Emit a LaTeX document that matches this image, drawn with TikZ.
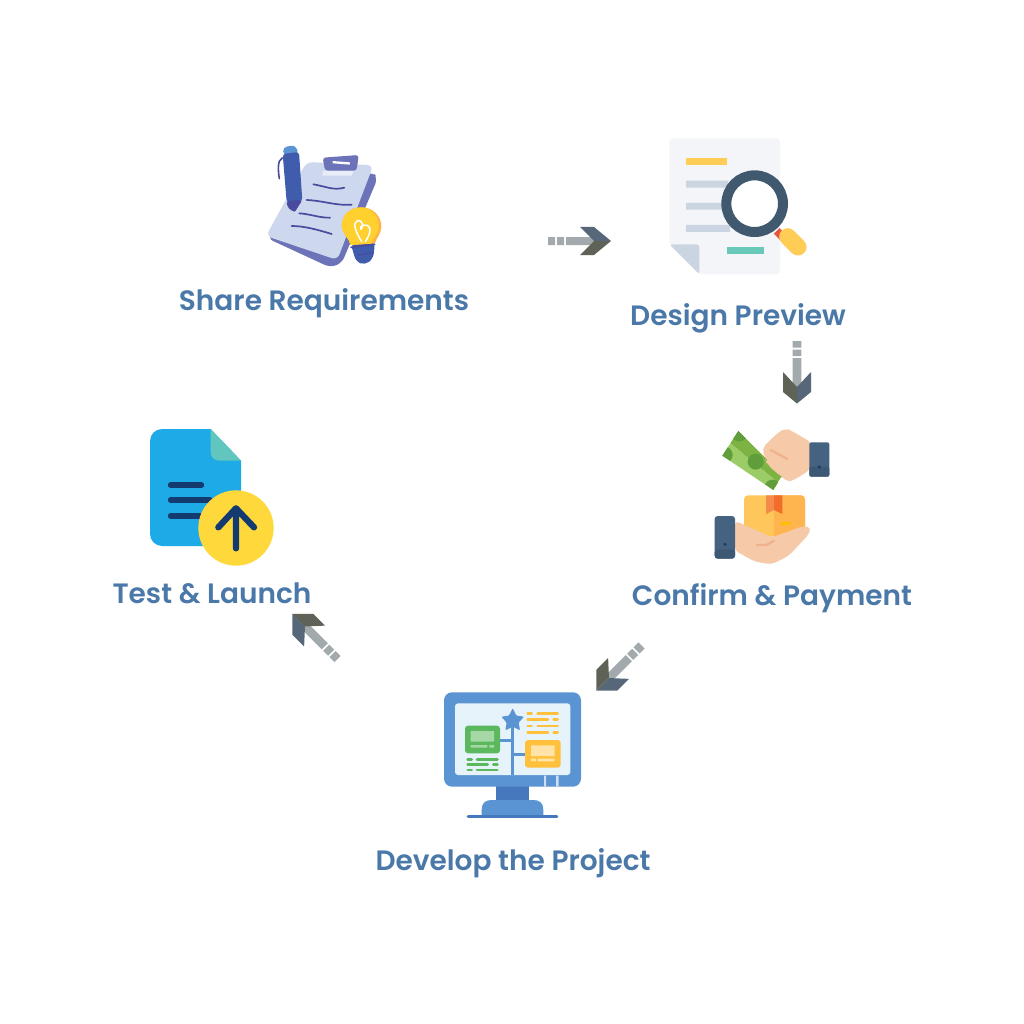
\documentclass[tikz,border=0pt]{standalone}
\usepackage{fontspec}
\newfontfamily\labfont{Poppins SemiBold}
\definecolor{lab}{HTML}{4A78A8}
\definecolor{shaft}{HTML}{A3AAAE}
\definecolor{headA}{HTML}{56677A}
\definecolor{headB}{HTML}{5F6357}
\definecolor{pap}{HTML}{CDD7EE}
\definecolor{pur}{HTML}{6D73B8}
\definecolor{ink}{HTML}{4A4A9E}
\definecolor{penb}{HTML}{3F5CAD}
\definecolor{skin}{HTML}{F6C9A8}
\definecolor{crease}{HTML}{EFB48D}
\definecolor{cuff}{HTML}{456381}
\definecolor{cuffd}{HTML}{3D5874}
\definecolor{mblue}{HTML}{5A94D2}
\definecolor{dblue}{HTML}{4678BD}
\definecolor{scr}{HTML}{E6F3FB}
\definecolor{mgreen}{HTML}{5CB85C}
\definecolor{morange}{HTML}{FFC13B}
\definecolor{bulb}{HTML}{FFD02E}
\definecolor{bulbo}{HTML}{FFB347}
\definecolor{sheet}{HTML}{F3F5F8}
\definecolor{fold}{HTML}{CBD5E1}
\definecolor{teal}{HTML}{68C9B8}
\definecolor{yel}{HTML}{FFCD56}
\definecolor{ring}{HTML}{40596F}
\definecolor{navy}{HTML}{143B70}
\definecolor{cyan}{HTML}{1EAAE7}
\definecolor{sun}{HTML}{FFD93B}
\definecolor{noteA}{HTML}{7CB342}
\definecolor{noteB}{HTML}{9CCC65}
\definecolor{noteC}{HTML}{5F9E3A}
\definecolor{boxA}{HTML}{FFC65C}
\definecolor{boxB}{HTML}{FFB54F}
\definecolor{tapeA}{HTML}{F58A4A}
\definecolor{tapeB}{HTML}{F26C2B}
\definecolor{neck}{HTML}{E8563F}
\tikzset{
  steplabel/.style={text=lab,font=\labfont\fontsize{28}{30}\selectfont,anchor=base,inner sep=0pt},
  zoomed/.style args={#1/#2}{shift={(#1,#2)},x=.33333pt,y=-.33333pt},
  thinline/.style={line cap=round,line width=#1},
  chevarrow/.pic={
    \fill[shaft] (0pt,-4pt) rectangle (7pt,4pt) (9pt,-4pt) rectangle (16pt,4pt) (18pt,-4pt) rectangle (46pt,4pt);
    \fill[headA] (32pt,14pt) -- (46pt,14pt) -- (63pt,0pt) -- (46pt,0pt) -- cycle;
    \fill[headB] (32pt,-14pt) -- (46pt,-14pt) -- (63pt,0pt) -- (46pt,0pt) -- cycle;
  },
  chevdiag/.pic={
    \fill[shaft] (0pt,-4.3pt) rectangle (7pt,4.3pt) (9pt,-4.3pt) rectangle (16pt,4.3pt) (18pt,-4.3pt) rectangle (46pt,4.3pt);
    \fill[headA] (32.5pt,14.7pt) -- (49pt,14.7pt) -- (63.7pt,0pt) -- (46pt,0pt) -- cycle;
    \fill[headB] (32.5pt,-14.7pt) -- (49pt,-14.7pt) -- (63.7pt,0pt) -- (46pt,0pt) -- cycle;
  },
  chevdown/.pic={
    \fill[shaft] (0pt,-4.3pt) rectangle (6.5pt,4.3pt) (8.5pt,-4.3pt) rectangle (15pt,4.3pt) (17pt,-4.3pt) rectangle (46pt,4.3pt);
    \fill[headA] (31pt,14pt) -- (51pt,14pt) -- (62.5pt,0pt) -- (46pt,0pt) -- cycle;
    \fill[headB] (31pt,-14pt) -- (51pt,-14pt) -- (62.5pt,0pt) -- (46pt,0pt) -- cycle;
  }
}
\begin{document}
\begin{tikzpicture}[x=1pt,y=-1pt]
\useasboundingbox[fill=white] (0,0) rectangle (1024,1024);
% labels
\node[steplabel] (share) at (324,310.3) {Share Requirements};
\node[steplabel] (design) at (738,325.3) {Design Preview};
\node[steplabel] (confirm) at (772,605.3) {Confirm \& Payment};
\node[steplabel] (develop) at (513,870.3) {Develop the Project};
\node[steplabel] (test) at (212,603.3) {Test \& Launch};
% arrows
\coordinate (a1) at (548,241);
\coordinate (a2) at (797,341);
\coordinate (a3) at (641.5,645.5);
\coordinate (a4) at (337.5,659);
\pic at (a1) {chevarrow};
\pic[rotate=-90] at (a2) {chevdown};
\pic[rotate=-135] at (a3) {chevdiag};
\pic[rotate=135] at (a4) {chevdiag};
% icon 1: clipboard
\begin{scope}[zoomed=250/130]
\fill[pur,rounded corners=6pt] (52,325) -- (240,412) -- (275,400) -- (383,145) -- (368,125) -- (200,200) -- cycle;
\fill[pap,rounded corners=6pt] (170,96) -- (370,106) -- (262,390) -- (48,318) -- cycle;
\fill[white!55!pap] (218,123) -- (310,123) -- (305,137) -- (218,137) -- cycle;
\fill[pur,rounded corners=3pt] (218,83) -- (326,75) -- (320,122) -- (225,122) -- cycle;
\fill[white!90!pap] (248,93) -- (300,97) -- (299,104) -- (248,100) -- cycle;
\draw[ink,thinline=1.7pt] (190,163) .. controls (230,170) and (250,182) .. (283,173);
\draw[ink,thinline=1.7pt] (170,210) .. controls (220,212) and (260,228) .. (305,224);
\draw[ink,thinline=1.7pt] (148,250) .. controls (180,252) and (210,264) .. (240,263);
\draw[ink,thinline=1.7pt] (125,288) .. controls (165,288) and (205,300) .. (245,312);
\draw[ink,thinline=1.6pt] (97,84) .. controls (82,90) and (84,120) .. (88,146);
\fill[mblue,rounded corners=4pt] (99,52) -- (135,45) -- (147,72) -- (100,76) -- cycle;
\fill[penb,rounded corners=3pt] (98,72) -- (147,66) -- (157,213) -- (110,216) -- cycle;
\fill[ink,rounded corners=2pt] (110,213) -- (157,210) -- (134,247) -- (113,233) -- cycle;
\fill[penb,rounded corners=5pt] (302,340) -- (375,335) -- (370,385) -- (345,405) -- (318,395) -- cycle;
\fill[bulbo] (335,232) .. controls (372,232) and (395,262) .. (394,292) .. controls (393,312) and (378,325) .. (375,340) -- (302,345) .. controls (298,325) and (275,310) .. (275,288) .. controls (275,255) and (300,232) .. (335,232) -- cycle;
\fill[bulb] (335,232) .. controls (366,232) and (388,262) .. (386,292) .. controls (385,312) and (368,325) .. (365,341) -- (302,345) .. controls (298,325) and (275,310) .. (275,288) .. controls (275,255) and (300,232) .. (335,232) -- cycle;
\draw[ink,thinline=1.6pt] (303,352) -- (374,343);
\draw[ink,thinline=1.2pt] (325,375) -- (368,368);
\draw[white,thinline=1.5pt,line join=round] (335,335) .. controls (320,310) and (305,280) .. (322,272) .. controls (338,268) and (342,290) .. (332,298) .. controls (325,285) and (355,278) .. (360,295) .. controls (362,310) and (352,325) .. (346,335);
\end{scope}
% icon 2: document with magnifier
\begin{scope}[zoomed=650/125]
\fill[sheet,rounded corners=4pt] (58,40) -- (390,40) -- (390,448) -- (148,448) -- (58,358) -- cycle;
\fill[fold,rounded corners=3pt] (58,358) -- (148,358) -- (148,448) -- cycle;
\fill[yel] (108,100) rectangle (232,121);
\fill[fold] (108,167) rectangle (235,188) (108,234) rectangle (220,254) (108,300) rectangle (240,321);
\fill[teal] (231,367) rectangle (342,388);
\draw[line width=8pt,color=neck] (380,318) -- (402,340);
\draw[yel,line width=17pt,line cap=round] (413,335) -- (444,366);
\fill[white] (314,236) circle (72);
\draw[ring,line width=10pt] (314,236) circle (85);
\end{scope}
% icon 3: payment hands
\begin{scope}[zoomed=700/420]
\fill[skin,rounded corners=5pt] (186,84) -- (232,40) .. controls (250,28) and (265,28) .. (280,36) -- (336,68) -- (330,150) -- (285,178) .. controls (270,184) and (258,180) .. (245,172) -- (200,130) -- cycle;
\begin{scope}
\clip (115,33) -- (248,165) -- (220,210) -- (67,107) -- cycle;
\fill[noteA] (115,33) -- (248,165) -- (233,187) -- (91,70) -- cycle;
\fill[noteB] (91,70) -- (233,187) -- (220,210) -- (67,107) -- cycle;
\fill[noteC] (167,125) circle (24) (118,38) circle (26) (72,105) circle (26) (218,205) circle (26);
\end{scope}
\fill[skin,rounded corners=7pt] (196,118) -- (208,95) -- (240,95) -- (290,140) -- (275,180) -- (250,175) -- (200,133) -- cycle;
\draw[crease,line width=2.4pt,line cap=round] (212,90) -- (262,117);
\fill[cuff,rounded corners=2pt] (328,67) rectangle (388,170);
\fill[cuffd,rounded corners=2pt] (328,140) rectangle (388,170);
\fill[navy] (358,141) circle (5);
\fill[boxA,rounded corners=4pt] (132,226) rectangle (315,350);
\fill[boxB,rounded corners=4pt] (222,226) rectangle (315,350);
\fill[boxB] (222,226) rectangle (240,350);
\fill[tapeA] (198,226) -- (222,226) -- (222,270) -- (198,282) -- cycle;
\fill[tapeB] (222,226) -- (247,226) -- (247,282) -- (222,270) -- cycle;
\fill[orange!50!yellow] (243,306) rectangle (272,316);
\fill[skin,rounded corners=4pt] (105,302) -- (145,320) -- (215,352) -- (222,350) -- (310,318) -- (333,322) -- (325,345) -- (265,408) -- (215,433) -- (165,425) -- (105,392) -- cycle;
\draw[crease,line width=2.4pt,line cap=round] (170,375) -- (200,375) -- (222,362);
\fill[cuff,rounded corners=3pt] (44,288) rectangle (105,416);
\fill[cuffd,rounded corners=3pt] (44,388) rectangle (105,416);
\fill[navy] (75,373) circle (5);
\end{scope}
% icon 4: monitor
\begin{scope}[zoomed=430/685]
\fill[dblue] (198,300) rectangle (298,348);
\fill[mblue] (155,394) -- (155,375) .. controls (155,355) and (165,345) .. (185,345) -- (310,345) .. controls (330,345) and (340,355) .. (340,375) -- (340,394) -- cycle;
\draw[dblue,line width=2.6pt,line cap=round] (114,394) -- (381,394);
\fill[mblue,rounded corners=8pt] (42,22) rectangle (453,305);
\fill[white!70!mblue] (342,272) rectangle (348,305) (378,272) rectangle (386,305);
\fill[scr,rounded corners=3pt] (75,55) rectangle (421,270);
\draw[mblue,line width=2.4pt] (247,100) -- (247,270) (210,167) -- (247,167) (247,208) -- (285,208);
\fill[mblue,rounded corners=1pt] (248,70) -- (259,92) -- (282,95) -- (266,113) -- (270,136) -- (248,125) -- (226,136) -- (230,113) -- (214,95) -- (237,92) -- cycle;
\fill[mgreen,rounded corners=3pt] (105,122) rectangle (210,205);
\fill[white!45!mgreen] (122,138) rectangle (192,170) (122,180) rectangle (172,188) (178,180) rectangle (192,188);
\fill[morange,rounded corners=3pt] (285,165) rectangle (392,248);
\fill[white!55!morange] (303,181) rectangle (374,213) (303,221) rectangle (318,229) (323,221) rectangle (374,229);
\draw[morange,line width=2.8pt,line cap=round] (293,85) -- (305,85) (323,85) -- (383,85) (293,104) -- (354,104) (371,104) -- (383,104) (293,123) -- (305,123) (323,123) -- (383,123) (293,142) -- (354,142) (371,142) -- (383,142);
\draw[mgreen,line width=2.8pt,line cap=round] (113,223) -- (125,223) (141,223) -- (202,223) (113,239) -- (173,239) (190,239) -- (202,239) (113,255) -- (125,255) (141,255) -- (202,255);
\end{scope}
% icon 5: upload document
\begin{scope}[zoomed=140/420]
\fill[cyan,rounded corners=12pt] (212,27) -- (30,27) -- (30,378) -- (250,378) [sharp corners] -- (303,378) -- (303,122) -- cycle;
\fill[teal!90!cyan] (212,27) -- (303,122) -- (240,122) .. controls (222,122) and (212,112) .. (212,95) -- cycle;
\draw[navy,line width=5.7pt,line cap=round] (92,196) -- (184,196) (92,240) -- (210,240) (92,287) -- (190,287);
\fill[sun] (288,324) circle (113);
\draw[navy,line width=6.3pt,line cap=round,line join=round] (288,385) -- (288,265) (235,322) -- (288,265) -- (342,322);
\end{scope}
\end{tikzpicture}
\end{document}
